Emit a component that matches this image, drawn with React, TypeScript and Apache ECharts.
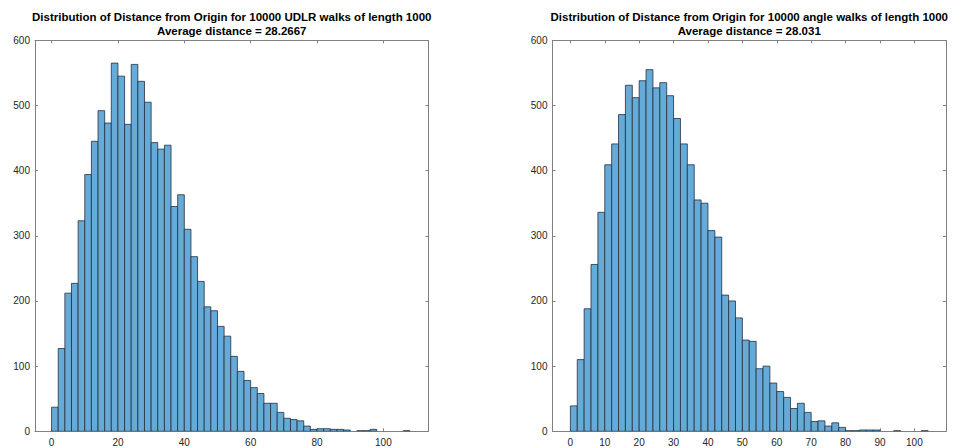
import React, { useEffect, useRef } from "react";
import * as echarts from "echarts";

const BIN_WIDTH = 2;

const udlrCounts = [
  37, 127, 212, 227, 323, 394, 445, 492, 473, 565,
  545, 471, 563, 537, 505, 443, 433, 439, 345, 363,
  310, 268, 230, 191, 185, 161, 146, 115, 92, 78,
  67, 58, 43, 43, 29, 20, 18, 16, 8, 3,
  4, 4, 3, 3, 2, 0, 1, 1, 3, 0,
  0, 0, 0, 1,
];

const angleCounts = [
  39, 110, 188, 256, 336, 409, 441, 486, 531, 512,
  538, 555, 527, 535, 515, 480, 441, 409, 355, 350,
  308, 298, 209, 200, 174, 140, 138, 96, 100, 74,
  61, 52, 35, 43, 29, 15, 16, 8, 13, 6,
  1, 1, 2, 2, 2, 0, 0, 1, 0, 0,
  0, 1,
];

const leftTicks = [0, 20, 40, 60, 80, 100];
const rightTicks = [0, 10, 20, 30, 40, 50, 60, 70, 80, 90, 100];

const leftTitle = [
  "Distribution of Distance from Origin for 10000 UDLR walks of length 1000",
  "Average distance = 28.2667",
];
const rightTitle = [
  "Distribution of Distance from Origin for 10000 angle walks of length 1000",
  "Average distance = 28.031",
];

const toBins = (counts: number[]) =>
  counts.map((c, i) => [i * BIN_WIDTH, (i + 1) * BIN_WIDTH, c]);

const AXIS_COLOR = "#808080";
const LABEL_COLOR = "#262626";
const FONT = "Liberation Sans";

export default function App() {
  const ref = useRef<HTMLDivElement>(null);

  useEffect(() => {
    if (!ref.current) return;
    const chart = echarts.init(ref.current, null, { renderer: "svg" });

    const grids = [
      { left: 35, right: 955 - 428.5, top: 40.3, bottom: 448 - 431.3 },
      { left: 552.5, right: 955 - 946, top: 40.3, bottom: 448 - 431.3 },
    ];
    const xr = [
      { min: -5, max: 113.6, ticks: leftTicks },
      { min: -5.2, max: 109.2, ticks: rightTicks },
    ];

    const xAxis: any[] = [];
    const yAxis: any[] = [];
    grids.forEach((_, g) => {
      ["bottom", "top"].forEach((pos) => {
        xAxis.push({
          type: "value",
          gridIndex: g,
          position: pos,
          min: xr[g].min,
          max: xr[g].max,
          splitLine: { show: false },
          axisLine: { show: true, onZero: false, lineStyle: { color: AXIS_COLOR, width: 1 } },
          axisTick: {
            show: true,
            inside: true,
            length: 3,
            customValues: xr[g].ticks,
            lineStyle: { color: AXIS_COLOR, width: 1 },
          },
          axisLabel: {
            show: pos === "bottom",
            customValues: xr[g].ticks,
            color: LABEL_COLOR,
            fontSize: 10,
            fontFamily: FONT,
            margin: 6,
          },
        });
      });
      ["left", "right"].forEach((pos) => {
        yAxis.push({
          type: "value",
          gridIndex: g,
          position: pos,
          min: 0,
          max: 600,
          interval: 100,
          splitLine: { show: false },
          axisLine: { show: true, onZero: false, lineStyle: { color: AXIS_COLOR, width: 1 } },
          axisTick: { show: true, inside: true, length: 3, lineStyle: { color: AXIS_COLOR, width: 1 } },
          axisLabel: {
            show: pos === "left",
            color: LABEL_COLOR,
            fontSize: 10,
            fontFamily: FONT,
            margin: 5,
          },
        });
      });
    });

    const renderItem = (params: any, api: any) => {
      const x0 = api.value(0);
      const x1 = api.value(1);
      const y = api.value(2);
      if (!y) return null;
      const p0 = api.coord([x0, y]);
      const p1 = api.coord([x1, 0]);
      return {
        type: "rect",
        shape: { x: p0[0], y: p0[1], width: p1[0] - p0[0], height: p1[1] - p0[1] },
        style: { fill: "#66aad7", stroke: "#233040", lineWidth: 0.8 },
      };
    };

    const titles = [leftTitle, rightTitle].map((t, g) => {
      const cx = g === 0 ? (35 + 428.5) / 2 : (552.5 + 946) / 2;
      return {
        type: "text",
        x: cx,
        y: 9.5,
        style: {
          text: t.join("\n"),
          align: "center",
          verticalAlign: "top",
          fontSize: 11.5,
          fontWeight: "bold",
          fontFamily: FONT,
          lineHeight: 14,
          fill: "#000000",
        },
      };
    });

    chart.setOption({
      animation: false,
      backgroundColor: "#ffffff",
      grid: grids,
      xAxis,
      yAxis,
      graphic: titles,
      series: [
        {
          type: "custom",
          xAxisIndex: 0,
          yAxisIndex: 0,
          data: toBins(udlrCounts),
          encode: { x: [0, 1], y: 2 },
          renderItem,
          clip: true,
        },
        {
          type: "custom",
          xAxisIndex: 2,
          yAxisIndex: 2,
          data: toBins(angleCounts),
          encode: { x: [0, 1], y: 2 },
          renderItem,
          clip: true,
        },
      ],
    });

    return () => chart.dispose();
  }, []);

  return (
    <div
      ref={ref}
      style={{ position: "fixed", left: 0, top: 0, width: 955, height: 448 }}
    />
  );
}
